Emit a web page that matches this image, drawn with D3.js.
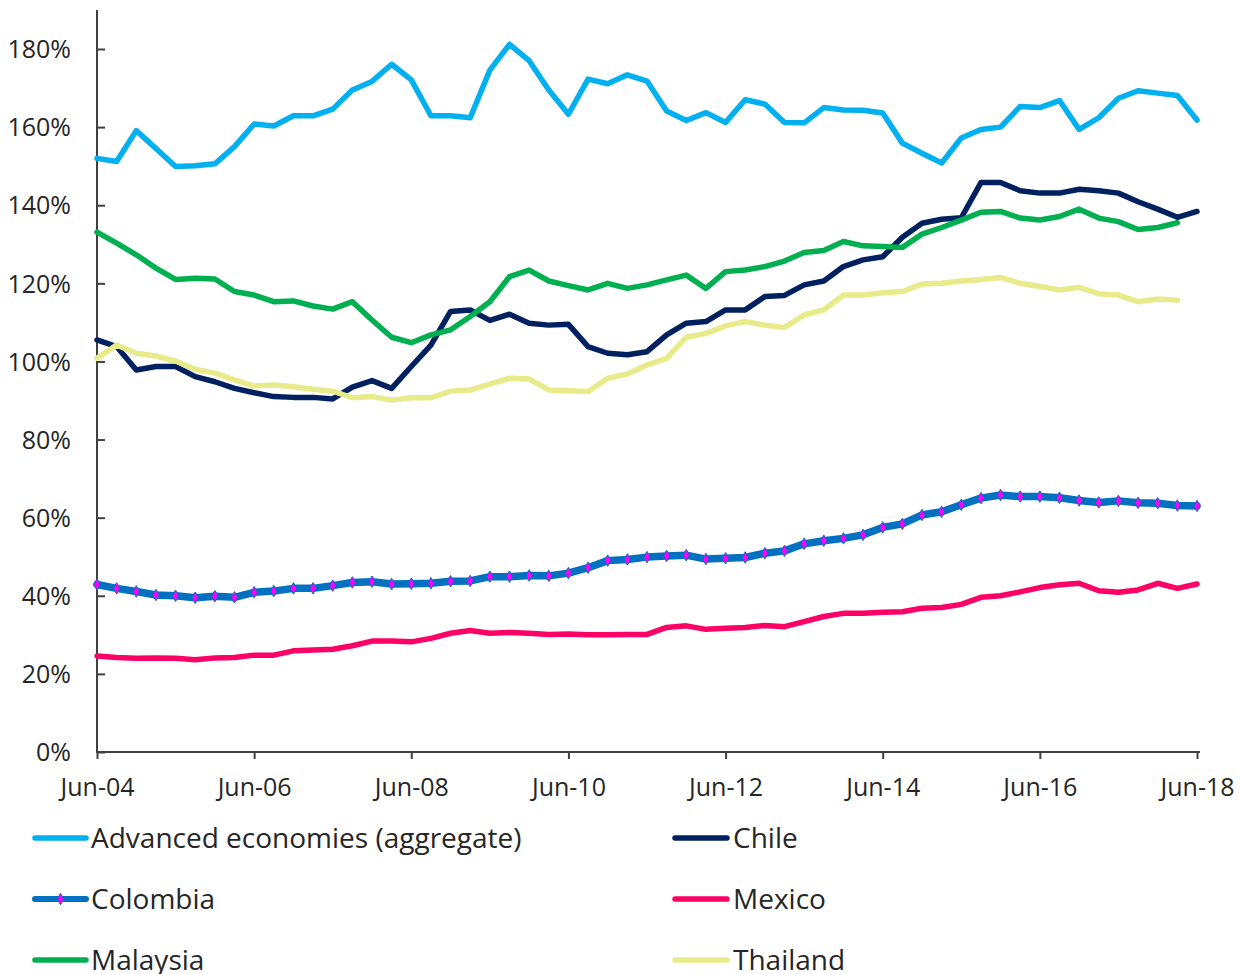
<!DOCTYPE html>
<html>
<head>
<meta charset="utf-8">
<script src="https://cdn.jsdelivr.net/npm/d3@7"></script>
<style>
  html, body { margin: 0; padding: 0; background: #ffffff; }
  svg { display: block; }
  text { font-family: "Open Sans", "Liberation Sans", sans-serif; fill: #262626; }
</style>
</head>
<body>
<svg id="chart" width="1240" height="974"></svg>
<script>
// Quarterly observations, Jun-04 .. Jun-18
const tickLabels = ["Jun-04","Jun-06","Jun-08","Jun-10","Jun-12","Jun-14","Jun-16","Jun-18"];
const yTickValues = [0, 20, 40, 60, 80, 100, 120, 140, 160, 180];

const advanced = [152.0,151.2,159.1,154.5,149.9,150.1,150.6,155.0,160.8,160.3,162.9,162.9,164.6,169.5,171.7,176.1,
  172.1,162.9,162.9,162.4,174.6,181.2,177.0,169.5,163.3,172.3,171.1,173.4,171.8,164.1,161.7,163.7,
  161.2,167.0,165.9,161.2,161.1,165.0,164.4,164.3,163.6,155.9,153.3,150.8,157.2,159.4,160.0,165.3,
  165.0,166.8,159.4,162.4,167.4,169.3,168.7,168.1,161.8];
const chile = [105.5,103.8,97.8,98.7,98.7,96.1,94.8,93.1,92.0,91.0,90.8,90.8,90.4,93.4,95.1,93.1,
  98.7,104.2,112.8,113.2,110.5,112.1,109.8,109.3,109.5,103.8,102.1,101.7,102.5,106.8,109.8,110.2,
  113.2,113.2,116.6,116.9,119.6,120.6,124.3,126.0,126.8,131.8,135.4,136.4,136.8,145.8,145.8,143.7,
  143.1,143.1,144.1,143.7,143.1,140.9,139.0,136.9,138.4];
const colombia = [42.9,41.9,41.1,40.2,40.0,39.5,39.9,39.6,40.9,41.2,41.9,41.9,42.6,43.4,43.6,43.0,
  43.1,43.2,43.7,43.8,44.9,44.9,45.2,45.1,45.8,47.2,49.0,49.3,49.9,50.2,50.4,49.4,
  49.6,49.8,50.9,51.5,53.3,54.1,54.7,55.6,57.5,58.4,60.7,61.5,63.3,65.0,65.8,65.4,
  65.4,65.1,64.4,63.9,64.3,63.8,63.7,63.1,63.0];
const mexico = [24.6,24.2,24.0,24.1,24.0,23.6,24.1,24.2,24.8,24.8,25.9,26.1,26.3,27.2,28.4,28.4,
  28.2,29.1,30.4,31.1,30.4,30.6,30.4,30.1,30.2,30.0,30.0,30.1,30.1,31.9,32.3,31.4,
  31.7,31.9,32.4,32.1,33.4,34.7,35.5,35.5,35.8,35.9,36.8,37.0,37.8,39.6,40.0,41.0,
  42.1,42.8,43.2,41.3,40.9,41.5,43.2,41.9,43.0];
const malaysia = [133.1,130.3,127.3,123.9,121.0,121.3,121.1,117.9,117.0,115.3,115.5,114.2,113.4,115.3,110.6,106.2,
  104.8,106.8,108.1,111.5,115.3,121.7,123.4,120.6,119.4,118.3,120.0,118.7,119.6,120.9,122.1,118.7,
  123.0,123.4,124.3,125.7,127.9,128.4,130.7,129.6,129.4,129.2,132.6,134.3,136.2,138.2,138.4,136.7,
  136.2,137.1,139.0,136.7,135.8,133.8,134.3,135.5];
const thailand = [100.8,104.2,102.1,101.4,100.1,98.0,97.0,95.3,93.7,94.0,93.5,92.9,92.4,90.7,91.0,90.1,
  90.7,90.7,92.4,92.7,94.2,95.7,95.5,92.7,92.5,92.3,95.7,96.8,99.1,100.8,106.2,107.2,
  109.1,110.2,109.3,108.7,111.9,113.2,117.0,117.0,117.6,117.9,119.8,120.0,120.6,121.0,121.5,120.0,
  119.2,118.3,119.0,117.3,117.0,115.3,116.0,115.7];

const seriesNames = ["Advanced economies (aggregate)","Chile","Colombia","Mexico","Malaysia","Thailand"];
const seriesValues = [advanced, chile, colombia, mexico, malaysia, thailand];
const seriesColors = ["#00b0f0","#002060","#0070c0","#ff0066","#00b050","#e8eb8a"];

const svg = d3.select("#chart");
const nQ = 56;
const x = d3.scaleLinear().domain([0, nQ]).range([97, 1197]);
const y = d3.scaleLinear().domain([0, 180]).range([752, 49]);

const axisColor = "#404040";

// Y axis (ticks pointing inward)
const yAxis = svg.append("g").attr("transform", "translate(97,0)")
  .call(d3.axisRight(y).tickValues(yTickValues).tickSize(8).tickFormat(d => d + "%"));
yAxis.select(".domain").remove();
yAxis.selectAll(".tick line").attr("stroke", axisColor).attr("stroke-width", 2);
yAxis.selectAll(".tick text").attr("x", -26).attr("text-anchor", "end")
  .attr("dy", "0.35em").style("font-size", "25px").style("fill", "#262626");
svg.append("line").attr("x1", 97).attr("x2", 97).attr("y1", 10).attr("y2", 752)
  .attr("stroke", axisColor).attr("stroke-width", 2);

// X axis
const xAxis = svg.append("g").attr("transform", "translate(0,752)")
  .call(d3.axisBottom(x).tickValues(d3.range(0, nQ + 1, 8)).tickSize(7).tickFormat((d, i) => tickLabels[i]));
xAxis.select(".domain").remove();
xAxis.selectAll(".tick line").attr("stroke", axisColor).attr("stroke-width", 2);
xAxis.selectAll(".tick text").attr("y", 44).attr("dy", 0).style("font-size", "25px").style("fill", "#262626");
svg.append("line").attr("x1", 96).attr("x2", 1200).attr("y1", 752).attr("y2", 752)
  .attr("stroke", axisColor).attr("stroke-width", 2);

// Lines
const line = d3.line().x((d, i) => x(i)).y(d => y(d));
seriesValues.forEach((vals, k) => {
  svg.append("path").datum(vals)
    .attr("d", line)
    .attr("fill", "none")
    .attr("stroke", seriesColors[k])
    .attr("stroke-width", k === 2 ? 7.5 : 5.5)
    .attr("stroke-linejoin", "round")
    .attr("stroke-linecap", "round");
  if (k === 2) {
    svg.append("g").selectAll("path").data(vals).join("path")
      .attr("transform", (d, i) => `translate(${x(i)},${y(d)})`)
      .attr("d", d3.symbol(d3.symbolDiamond, 38))
      .attr("fill", "#ff00ff")
      .attr("stroke", "#0070c0")
      .attr("stroke-width", 1);
  }
});

// Legend
const legCols = [{sx1: 33, sx2: 88, tx: 91}, {sx1: 673, sx2: 729, tx: 733}];
const legRows = [838, 899, 960];
seriesNames.forEach((name, k) => {
  const c = legCols[k % 2], r = legRows[Math.floor(k / 2)];
  const g = svg.append("g");
  g.append("line").attr("x1", c.sx1 + 2).attr("x2", c.sx2 - 2).attr("y1", r).attr("y2", r)
    .attr("stroke", seriesColors[k]).attr("stroke-width", k === 2 ? 6 : 5.5).attr("stroke-linecap", "round");
  if (k === 2) {
    g.append("path").attr("transform", `translate(${(c.sx1 + c.sx2) / 2},${r})`)
      .attr("d", d3.symbol(d3.symbolDiamond, 38))
      .attr("fill", "#ff00ff").attr("stroke", "#0070c0").attr("stroke-width", 1);
  }
  g.append("text").attr("x", c.tx).attr("y", r).attr("dy", "0.35em")
    .style("font-size", "28px").text(name);
});
</script>
</body>
</html>
